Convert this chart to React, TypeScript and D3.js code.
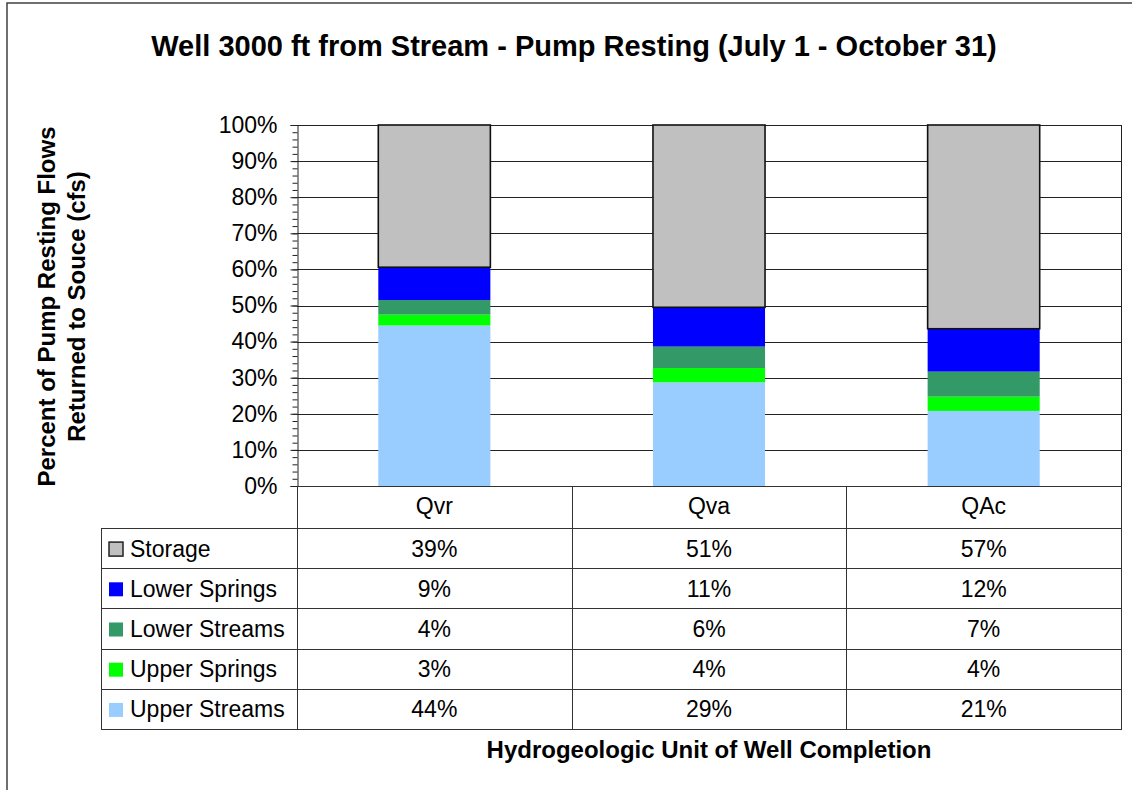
import React, { useEffect, useRef } from 'react';
import * as d3 from 'd3';

// chart values
const categories = ['Qvr', 'Qva', 'QAc'];
const seriesNames = ['Upper Streams', 'Upper Springs', 'Lower Streams', 'Lower Springs', 'Storage'];
const upperStreams = [44, 29, 21];
const upperSprings = [3, 4, 4];
const lowerStreams = [4, 6, 7];
const lowerSprings = [9, 11, 12];
const storage = [39, 51, 57];
const seriesColors = ['#99CCFF', '#00FF00', '#339966', '#0000FF', '#C0C0C0'];
const yTicks = [0, 0.1, 0.2, 0.3, 0.4, 0.5, 0.6, 0.7, 0.8, 0.9, 1];

const W = 1132;
const H = 790;
const FONT = '"Liberation Sans", Arial, sans-serif';

const App: React.FC = () => {
  const svgRef = useRef<SVGSVGElement>(null);

  useEffect(() => {
    document.body.style.margin = '0';
    if (!svgRef.current) return;
    const svg = d3.select(svgRef.current);
    svg.selectAll('*').remove();

    const values: Record<string, number[]> = {
      'Upper Streams': upperStreams,
      'Upper Springs': upperSprings,
      'Lower Streams': lowerStreams,
      'Lower Springs': lowerSprings,
      'Storage': storage,
    };
    const rows = categories.map((c, i) => {
      const r: Record<string, any> = { cat: c };
      seriesNames.forEach(s => (r[s] = values[s][i]));
      return r;
    });

    const plot = { left: 297, right: 1121, top: 125, bottom: 486 };
    const tableBottom = 729;
    const tableLeft = 101;
    const headerBottom = 528;

    const x = d3.scaleBand().domain(categories).range([plot.left, plot.right]);
    const y = d3.scaleLinear().domain([0, 1]).range([plot.bottom, plot.top]);
    const color = d3.scaleOrdinal<string, string>().domain(seriesNames).range(seriesColors);

    // outer chart frame (runs off the right/bottom of the picture)
    svg.append('rect')
      .attr('x', 7).attr('y', 3)
      .attr('width', W + 20).attr('height', H + 20)
      .attr('fill', '#fff').attr('stroke', '#404040').attr('stroke-width', 1.5);

    // Title
    svg.append('text')
      .attr('x', 574).attr('y', 56)
      .attr('text-anchor', 'middle')
      .style('font-family', FONT).style('font-size', '29px').style('font-weight', 'bold')
      .text('Well 3000 ft from Stream - Pump Resting (July 1 - October 31)');

    // gridlines
    svg.append('g')
      .selectAll('line')
      .data(yTicks.filter(t => t > 0))
      .enter()
      .append('line')
      .attr('x1', plot.left).attr('x2', plot.right)
      .attr('y1', d => Math.round(y(d)) + 0.5).attr('y2', d => Math.round(y(d)) + 0.5)
      .attr('stroke', '#222').attr('stroke-width', 1);

    // right edge of plot area
    svg.append('line')
      .attr('x1', plot.right + 0.5).attr('x2', plot.right + 0.5)
      .attr('y1', plot.top).attr('y2', plot.bottom)
      .attr('stroke', '#222');

    // stacked bars (100%)
    const stack = d3.stack<any>().keys(seriesNames).offset(d3.stackOffsetExpand);
    const layers = stack(rows);
    const barW = x.bandwidth() * 0.408;

    svg.append('g')
      .selectAll('g')
      .data(layers)
      .enter()
      .append('g')
      .attr('fill', d => color(d.key))
      .each(function (layer) {
        d3.select(this)
          .selectAll('rect')
          .data(layer)
          .enter()
          .append('rect')
          .attr('x', d => (x(d.data.cat) as number) + (x.bandwidth() - barW) / 2)
          .attr('y', d => y(d[1]))
          .attr('width', barW)
          .attr('height', d => y(d[0]) - y(d[1]))
          .attr('stroke', layer.key === 'Storage' ? '#111' : 'none')
          .attr('stroke-width', layer.key === 'Storage' ? 1.6 : 0);
      });

    // y axis: minor ticks every 2%, major every 10%
    const axisG = svg.append('g').attr('transform', `translate(${plot.left + 0.5},0)`);
    axisG.append('g')
      .call(
        d3.axisLeft(y)
          .tickValues(d3.range(0, 51).map(i => i / 50))
          .tickSize(5)
          .tickFormat(() => '')
      )
      .call(g => g.select('.domain').remove())
      .selectAll('line').attr('stroke', '#222');
    axisG.append('g')
      .call(
        d3.axisLeft(y)
          .tickValues(yTicks)
          .tickSize(7)
          .tickPadding(13)
          .tickFormat(d3.format('.0%'))
      )
      .call(g => g.select('.domain').attr('stroke', '#222'))
      .call(g => g.selectAll('line').attr('stroke', '#222'))
      .selectAll('text')
      .style('font-family', FONT)
      .style('font-size', '23px')
      .attr('fill', '#000');

    // Y axis title
    const yTitle = svg.append('g')
      .style('font-family', FONT).style('font-size', '24px').style('font-weight', 'bold');
    [['Percent of Pump Resting Flows', 55], ['Returned to Souce (cfs)', 85]].forEach(([t, lx]) => {
      yTitle.append('text')
        .attr('transform', `translate(${lx},${(plot.top + plot.bottom) / 2 + 1}) rotate(-90)`)
        .attr('text-anchor', 'middle')
        .text(t as string);
    });

    // data table
    const rowOrder = seriesNames.slice().reverse();
    const ry = d3.scaleBand().domain(rowOrder).range([headerBottom, tableBottom]);
    const table = svg.append('g');
    const lineColor = '#333';

    // header row (category names)
    table.append('rect')
      .attr('x', plot.left + 0.5).attr('y', plot.bottom + 0.5)
      .attr('width', plot.right - plot.left).attr('height', headerBottom - plot.bottom)
      .attr('fill', 'none').attr('stroke', lineColor);
    // body
    table.append('rect')
      .attr('x', tableLeft + 0.5).attr('y', headerBottom + 0.5)
      .attr('width', plot.right - tableLeft).attr('height', tableBottom - headerBottom)
      .attr('fill', 'none').attr('stroke', lineColor);
    // row separators
    table.selectAll('.rowline')
      .data(rowOrder.slice(1))
      .enter()
      .append('line')
      .attr('x1', tableLeft).attr('x2', plot.right)
      .attr('y1', d => Math.round(ry(d) as number) + 0.5)
      .attr('y2', d => Math.round(ry(d) as number) + 0.5)
      .attr('stroke', lineColor);
    // column separators
    table.selectAll('.colline')
      .data(categories)
      .enter()
      .append('line')
      .attr('x1', d => Math.round(x(d) as number) + 0.5)
      .attr('x2', d => Math.round(x(d) as number) + 0.5)
      .attr('y1', d => (d === categories[0] ? headerBottom : plot.bottom))
      .attr('y2', tableBottom)
      .attr('stroke', lineColor);

    // category labels
    table.selectAll('.cat')
      .data(categories)
      .enter()
      .append('text')
      .attr('x', d => (x(d) as number) + x.bandwidth() / 2)
      .attr('y', (plot.bottom + headerBottom) / 2 + 7)
      .attr('text-anchor', 'middle')
      .style('font-family', FONT).style('font-size', '23px')
      .text(d => d);

    // legend keys and names
    const legendRows = table.selectAll('.lrow')
      .data(rowOrder)
      .enter()
      .append('g')
      .attr('transform', d => `translate(0,${(ry(d) as number) + ry.bandwidth() / 2})`);
    legendRows.append('rect')
      .attr('x', 109)
      .attr('y', -6)
      .attr('width', 14).attr('height', 14)
      .attr('fill', d => color(d))
      .attr('stroke', d => (d === 'Storage' ? '#222' : 'none'))
      .attr('stroke-width', 1.5);
    legendRows.append('text')
      .attr('x', 130).attr('y', 8.5)
      .style('font-family', FONT).style('font-size', '23px')
      .text(d => d);

    // values
    legendRows.each(function (s) {
      d3.select(this)
        .selectAll('text.val')
        .data(categories)
        .enter()
        .append('text')
        .attr('class', 'val')
        .attr('x', c => (x(c) as number) + x.bandwidth() / 2)
        .attr('y', 8.5)
        .attr('text-anchor', 'middle')
        .style('font-family', FONT).style('font-size', '23px')
        .text((c, i) => `${values[s][i]}%`);
    });

    // X axis title
    svg.append('text')
      .attr('x', (plot.left + plot.right) / 2).attr('y', 758)
      .attr('text-anchor', 'middle')
      .style('font-family', FONT).style('font-size', '24px').style('font-weight', 'bold')
      .text('Hydrogeologic Unit of Well Completion');
  }, []);

  return <svg ref={svgRef} width={W} height={H} style={{ display: 'block' }} />;
};

export default App;
